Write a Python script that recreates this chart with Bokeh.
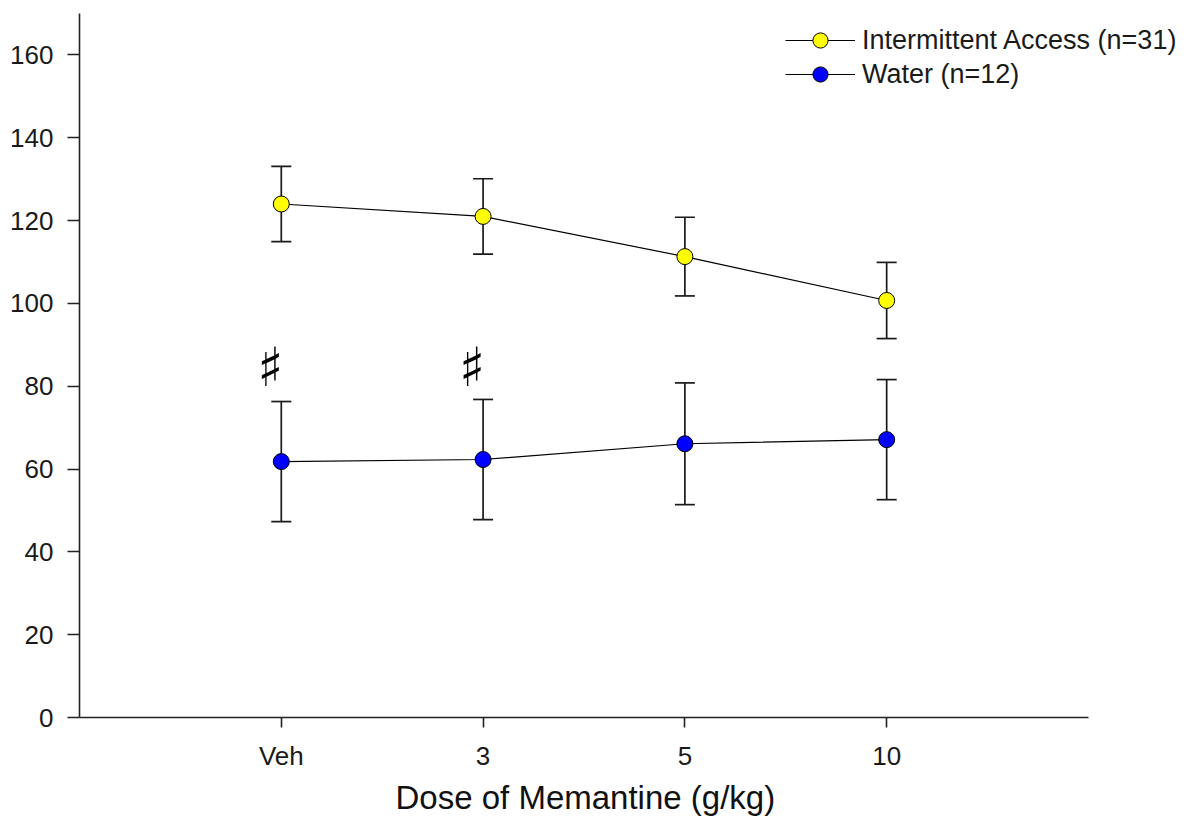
from bokeh.plotting import figure
from bokeh.models import (ColumnDataSource, Range1d, FixedTicker, Whisker, TeeHead,
                          Legend, LegendItem, Title)
from bokeh.core.properties import value
from bokeh.embed import file_html
from bokeh.resources import INLINE

# ---- data ----
categories = ["Veh", "3", "5", "10"]
cat_pos = [1, 2, 3, 4]
ia_mean = [124.0, 121.0, 111.3, 100.7]
ia_sem = [9.1, 9.1, 9.5, 9.2]
water_mean = [61.8, 62.3, 66.1, 67.1]
water_sem = [14.5, 14.5, 14.7, 14.5]
sig_cats = [1, 2]          # Veh and 3
sig_y = [84.5, 84.5]
y_ticks = [0, 20, 40, 60, 80, 100, 120, 140, 160]

FONT = "Liberation Sans"

ia_src = ColumnDataSource(dict(x=cat_pos, y=ia_mean,
                               upper=[m + s for m, s in zip(ia_mean, ia_sem)],
                               lower=[m - s for m, s in zip(ia_mean, ia_sem)]))
w_src = ColumnDataSource(dict(x=cat_pos, y=water_mean,
                              upper=[m + s for m, s in zip(water_mean, water_sem)],
                              lower=[m - s for m, s in zip(water_mean, water_sem)]))

# frame: left 79, top 13, bottom 717 ; axis ends at x=5 (px 1088)
p = figure(width=1182, height=821, output_backend="svg", toolbar_location=None,
           x_range=Range1d(0, 5.466), y_range=Range1d(0, 170),
           min_border_left=79, min_border_right=0, min_border_top=13, min_border_bottom=104)
p.outline_line_color = None
p.grid.visible = False
p.background_fill_color = "white"

# axes
p.xaxis.ticker = FixedTicker(ticks=cat_pos)
p.xaxis.bounds = (0, 5)
p.xaxis.major_label_overrides = {c: l for c, l in zip(cat_pos, categories)}
p.yaxis.ticker = FixedTicker(ticks=y_ticks)
for ax in (p.xaxis[0], p.yaxis[0]):
    ax.axis_line_color = "#222222"
    ax.axis_line_width = 1.6
    ax.major_tick_line_color = "#222222"
    ax.major_tick_line_width = 1.6
    ax.minor_tick_line_color = None
    ax.major_tick_in = 0
    ax.major_label_text_font = FONT
    ax.major_label_text_font_size = "26px"
    ax.major_label_text_color = "#1a1a1a"
p.xaxis.major_tick_out = 10
p.xaxis.major_label_standoff = 13
p.yaxis.major_tick_out = 12
p.yaxis.major_label_standoff = 14

# x-axis title (centred under the drawn axis, not the whole frame)
xt = Title(text="Dose of Memantine (g/kg)", align="left", offset=316,
           text_font=FONT, text_font_size="33px", text_font_style="normal",
           text_color="#111111", standoff=6)
p.add_layout(xt, "below")

# whiskers
for src in (ia_src, w_src):
    w = Whisker(base="x", upper="upper", lower="lower", source=src,
                line_color="#1a1a1a", line_width=1.7,
                upper_head=TeeHead(size=20, line_color="#1a1a1a", line_width=1.7),
                lower_head=TeeHead(size=20, line_color="#1a1a1a", line_width=1.7))
    p.add_layout(w)

l1 = p.line("x", "y", source=ia_src, line_color="black", line_width=1.2)
s1 = p.scatter("x", "y", source=ia_src, size=16, fill_color="#FFFF00",
               line_color="black", line_width=1)
l2 = p.line("x", "y", source=w_src, line_color="black", line_width=1.2)
s2 = p.scatter("x", "y", source=w_src, size=16, fill_color="#0000FF",
               line_color="black", line_width=1)

# significance marks
p.text(x=sig_cats, y=sig_y, text=["\u266f", "\u266f"], x_offset=-11,
       text_font=value("DejaVu Sans"), text_font_size="54px", text_color="black",
       text_align="center", text_baseline="middle")

# legends
def make_legend(label, renderers, ybottom):
    lg = Legend(items=[LegendItem(label=label, renderers=renderers)],
                location=(706, ybottom), glyph_width=70, glyph_height=38,
                label_height=38, label_standoff=7, padding=0, margin=0,
                border_line_color=None, background_fill_alpha=0,
                label_text_font=FONT, label_text_font_size="27px",
                label_text_color="#1a1a1a")
    p.add_layout(lg, "center")

make_legend("Intermittent Access (n=31)", [l1, s1], 658)
make_legend("Water (n=12)", [l2, s2], 624)

open("out.html", "w").write(file_html(p, INLINE))
